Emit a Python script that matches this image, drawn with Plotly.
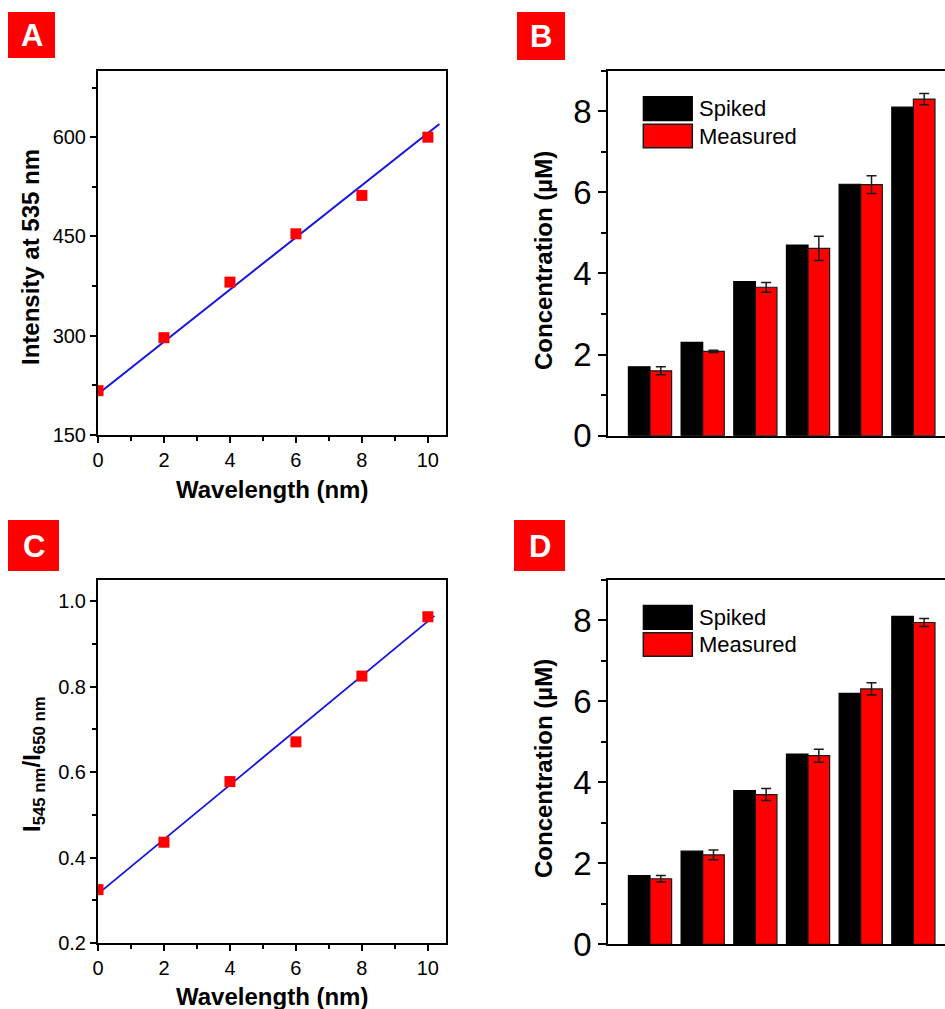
import plotly.graph_objects as go

# ---------------- data ----------------
wl = [0, 2, 4, 6, 8, 10]
intensity_535 = [217, 297, 381, 454, 512, 600]
fitA_x = [0, 10.35]
fitA_y = [212, 620]

ratio_545_650 = [0.325, 0.436, 0.578, 0.671, 0.825, 0.964]
fitC_x = [0, 10.2]
fitC_y = [0.315, 0.966]

samples = [1, 2, 3, 4, 5, 6]
spiked = [1.7, 2.3, 3.8, 4.7, 6.2, 8.1]
measured_B = [1.60, 2.08, 3.66, 4.62, 6.19, 8.30]
err_B = [0.10, 0.03, 0.12, 0.30, 0.22, 0.14]
measured_D = [1.62, 2.21, 3.70, 4.66, 6.31, 7.95]
err_D = [0.08, 0.12, 0.15, 0.16, 0.15, 0.10]

W, H = 945, 1009
FONT = "Arial, Liberation Sans, sans-serif"
RED = "#FF0000"


def px_x(p):
    return p / W


def px_y(p):
    return 1 - p / H


fig = go.Figure()

# ---- Panel A ----
fig.add_trace(go.Scatter(x=fitA_x, y=fitA_y, mode="lines",
                         line=dict(color="#1414E0", width=2),
                         xaxis="x", yaxis="y", showlegend=False))
fig.add_trace(go.Scatter(x=wl, y=intensity_535, mode="markers",
                         marker=dict(symbol="square", size=11, color=RED),
                         xaxis="x", yaxis="y", showlegend=False))

# ---- Panel C ----
fig.add_trace(go.Scatter(x=fitC_x, y=fitC_y, mode="lines",
                         line=dict(color="#1414E0", width=1.8),
                         xaxis="x3", yaxis="y3", showlegend=False))
fig.add_trace(go.Scatter(x=wl, y=ratio_545_650, mode="markers",
                         marker=dict(symbol="square", size=11, color=RED),
                         xaxis="x3", yaxis="y3", showlegend=False))

# ---- Panels B and D ----
for xa, ya, meas, err in (("x2", "y2", measured_B, err_B), ("x4", "y4", measured_D, err_D)):
    fig.add_trace(go.Bar(x=samples, y=spiked, name="Spiked", xaxis=xa, yaxis=ya,
                         marker=dict(color="black", line=dict(color="black", width=1.2)),
                         offsetgroup="s", showlegend=False))
    fig.add_trace(go.Bar(x=samples, y=meas, name="Measured", xaxis=xa, yaxis=ya,
                         marker=dict(color=RED, line=dict(color="#1a1a1a", width=1.2)),
                         error_y=dict(type="data", array=err, color="#1a1a1a",
                                      thickness=1.5, width=5),
                         offsetgroup="m", showlegend=False))

tickfont_small = dict(family=FONT, size=20, color="black")
tickfont_big = dict(family=FONT, size=33, color="black")

line_common = dict(showline=True, linecolor="black", linewidth=2, showgrid=False,
                   zeroline=False, automargin=False)


def lin_x(domain, anchor):
    return dict(domain=domain, anchor=anchor, range=[0, 10.55], tick0=0, dtick=2,
                ticks="outside", ticklen=6, tickwidth=2, tickcolor="black",
                minor=dict(ticks="outside", dtick=1, ticklen=4, tickwidth=2, tickcolor="black"),
                mirror=True, tickfont=tickfont_small, **line_common)


def bar_x(domain, anchor):
    return dict(domain=domain, anchor=anchor, range=[0.208, 6.60], ticks="",
                showticklabels=False, mirror=True, **line_common)


def bar_y(domain, anchor):
    return dict(domain=domain, anchor=anchor, range=[0, 9], tick0=0, dtick=2,
                ticks="outside", ticklen=8, tickwidth=2, tickcolor="black",
                minor=dict(ticks="outside", dtick=1, ticklen=5, tickwidth=2, tickcolor="black"),
                mirror=False, tickfont=tickfont_big, **line_common)


layout = dict(
    width=W, height=H, autosize=False,
    margin=dict(l=0, r=0, t=0, b=0, pad=0, autoexpand=False),
    paper_bgcolor="white", plot_bgcolor="white",
    barmode="group", bargap=0.18, bargroupgap=0,
    showlegend=False,
    xaxis=lin_x([px_x(98), px_x(446)], "y"),
    yaxis=dict(domain=[px_y(435), px_y(71)], anchor="x", range=[150, 700], tick0=150,
               dtick=150, ticks="outside", ticklen=6, tickwidth=2, tickcolor="black",
               minor=dict(ticks="outside", dtick=75, ticklen=4, tickwidth=2, tickcolor="black"),
               mirror=True, tickfont=tickfont_small, **line_common),
    xaxis3=lin_x([px_x(98), px_x(446)], "y3"),
    yaxis3=dict(domain=[px_y(943), px_y(580)], anchor="x3", range=[0.2, 1.05], tick0=0.2,
                dtick=0.2, tickformat=".1f", ticks="outside", ticklen=6, tickwidth=2,
                tickcolor="black",
                minor=dict(ticks="outside", dtick=0.1, ticklen=4, tickwidth=2, tickcolor="black"),
                mirror=True, tickfont=tickfont_small, **line_common),
    xaxis2=bar_x([px_x(608.3), 1.0], "y2"),
    yaxis2=bar_y([px_y(435.7), px_y(70.7)], "x2"),
    xaxis4=bar_x([px_x(608.3), 1.0], "y4"),
    yaxis4=bar_y([px_y(944.3), px_y(580)], "x4"),
)
fig.update_layout(**layout)

shapes = []
annotations = []

# panel labels
for letter, (x0, y0, x1, y1) in {"A": (8, 12, 55, 58), "B": (517, 12, 565, 60),
                                 "C": (8, 520, 59, 571), "D": (514, 520, 565, 571)}.items():
    shapes.append(dict(type="rect", xref="paper", yref="paper",
                       x0=px_x(x0), x1=px_x(x1), y0=px_y(y1), y1=px_y(y0),
                       fillcolor=RED, line=dict(width=0), layer="above"))
    annotations.append(dict(text=f"<b>{letter}</b>", xref="paper", yref="paper",
                            x=px_x((x0 + x1) / 2), y=px_y((y0 + y1) / 2 + 1),
                            showarrow=False, xanchor="center", yanchor="middle",
                            font=dict(family=FONT, size=31, color="white")))

# custom legends for B and D
for top in (96.7, 605.3):
    shapes.append(dict(type="rect", xref="paper", yref="paper",
                       x0=px_x(643.3), x1=px_x(692.3), y0=px_y(top + 24), y1=px_y(top),
                       fillcolor="black", line=dict(color="black", width=1.2)))
    shapes.append(dict(type="rect", xref="paper", yref="paper",
                       x0=px_x(643.3), x1=px_x(692.3), y0=px_y(top + 51), y1=px_y(top + 27.5),
                       fillcolor=RED, line=dict(color="#1a1a1a", width=1.5)))
    annotations.append(dict(text="Spiked", xref="paper", yref="paper",
                            x=px_x(697), y=px_y(top + 12), showarrow=False,
                            xanchor="left", yanchor="middle",
                            font=dict(family=FONT, size=22, color="black")))
    annotations.append(dict(text="Measured", xref="paper", yref="paper",
                            x=px_x(697), y=px_y(top + 39.5), showarrow=False,
                            xanchor="left", yanchor="middle",
                            font=dict(family=FONT, size=22, color="black")))

title_font = dict(family=FONT, size=24, color="black")
# axis titles
annotations += [
    dict(text="<b>Wavelength (nm)</b>", xref="paper", yref="paper", x=px_x(272), y=px_y(489),
         showarrow=False, xanchor="center", yanchor="middle", font=title_font),
    dict(text="<b>Wavelength (nm)</b>", xref="paper", yref="paper", x=px_x(272), y=px_y(996),
         showarrow=False, xanchor="center", yanchor="middle", font=title_font),
    dict(text="<b>Intensity at 535 nm</b>", xref="paper", yref="paper", x=px_x(30), y=px_y(257),
         showarrow=False, xanchor="center", yanchor="middle", textangle=-90, font=title_font),
    dict(text="<b>I<sub>545 nm</sub>/I<sub>650 nm</sub></b>", xref="paper", yref="paper",
         x=px_x(33), y=px_y(764), showarrow=False, xanchor="center", yanchor="middle",
         textangle=-90, font=title_font),
    dict(text="<b>Concentration (µM)</b>", xref="paper", yref="paper", x=px_x(543), y=px_y(261),
         showarrow=False, xanchor="center", yanchor="middle", textangle=-90, font=title_font),
    dict(text="<b>Concentration (µM)</b>", xref="paper", yref="paper", x=px_x(543), y=px_y(769),
         showarrow=False, xanchor="center", yanchor="middle", textangle=-90, font=title_font),
]

fig.update_layout(shapes=shapes, annotations=annotations)

page_css = (
    "var h=document.documentElement,b=document.body;"
    "h.style.margin='0';h.style.padding='0';h.style.overflow='hidden';"
    "b.style.margin='0';b.style.padding='0';b.style.overflow='hidden';"
)
fig.write_html("out.html", config={"displayModeBar": False}, post_script=page_css)
